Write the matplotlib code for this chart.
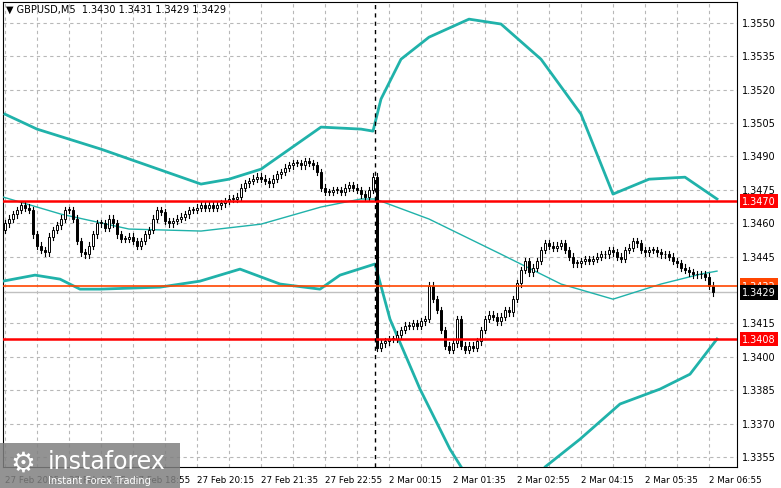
import matplotlib
matplotlib.use("Agg")
import matplotlib.pyplot as plt
import numpy as np
from matplotlib.patches import Rectangle

# closes in pips above 1.3400
closes = [60,62,64,66,68,67,66,55,50,48,47,54,57,59,62,66,66,62,52,47,46,50,55,60,60,58,62,60,55,53,
          53,54,52,50,52,55,57,62,66,65,61,60,61,62,63,64,66,66,67,68,67,68,67,68,69,70,71,71,72,76,
          78,79,80,81,80,79,78,80,82,83,85,86,87,87,86,88,87,86,83,76,74,74,75,75,74,76,77,76,75,73,
          72,75,81,4,6,7,8,8,10,12,14,14,15,14,16,17,32,26,21,12,5,3,6,17,5,3,5,4,7,12,
          17,19,18,16,18,21,20,26,33,39,43,38,40,43,48,51,50,49,50,51,48,45,42,42,43,44,43,44,45,46,
          46,48,47,45,44,48,49,52,51,48,47,48,48,47,46,46,45,43,42,40,39,38,37,37,37,36,32,29]
first_open = 57
wick = 1.5

up_idx = [0,8,24,49,56,64,79,89,92,94,99,106,116,124,134,144,152,161,170,178]
up_val = [109.0,102.3,93.3,77.6,79.8,84.3,103.2,102.3,101.4,115.8,133.7,143.6,151.7,149.5,133.7,109.0,73.1,79.8,80.7,70.9]
mid_idx = [-0.5,14,31,49,64,79,89,92.5,106,124,139,152,164,174,178]
mid_val = [71.8,64.1,57.4,56.5,59.6,67.3,70.9,70.9,61.9,46.1,32.7,25.9,32.7,37.2,38.5]
lo_idx = [-0.5,7.5,13.75,18.75,23.75,38.75,48.75,58.75,68.75,78.75,83.75,92.5,96.25,103.75,111.25,117.5,131.25,135,143.75,153.75,163.75,171.25,178]
lo_val = [34.0,36.7,34.9,30.4,30.4,31.3,34.0,39.4,32.7,30.4,36.7,41.7,16.9,-14.5,-41.5,-59.4,-63.9,-49.5,-37.0,-21.2,-14.5,-7.8,8.0]

xtick_labels = ["27 Feb 2025","27 Feb 17:35","27 Feb 18:55","27 Feb 20:15","27 Feb 21:35","27 Feb 22:55",
                "2 Mar 00:15","2 Mar 01:35","2 Mar 02:55","2 Mar 04:15","2 Mar 05:35","2 Mar 06:55"]
xtick_idx = [0,16,32,48,64,80,96,112,128,144,160,176]
yticks = [1.3355,1.3370,1.3385,1.3400,1.3415,1.3445,1.3460,1.3475,1.3490,1.3505,1.3520,1.3535,1.3550]
levels_red = [1.3470, 1.3408]
level_orange = 1.3432
level_last = 1.3429

def P(p): return 1.3400 + np.asarray(p)/10000.0

W, H = 781, 489
fig = plt.figure(figsize=(W/100, H/100), dpi=100)
ax = fig.add_axes([3/W, 21/H, 734/W, 465/H])
ymin, ymax = 1.33505, 1.35594
ax.set_xlim(-0.5, 183)
ax.set_ylim(ymin, ymax)
ax.set_facecolor("white")

for v in yticks:
    ax.axhline(v, color="#b8b8b8", lw=0.8, ls=(0,(3,3)), zorder=0)
for i in range(0, 184, 8):
    ax.axvline(i, color="#b8b8b8", lw=0.8, ls=(0,(3,3)), zorder=0)

teal = "#20b2aa"
ax.plot(up_idx, P(up_val), color=teal, lw=2, zorder=3)
ax.plot(mid_idx, P(mid_val), color=teal, lw=1, zorder=3)
ax.plot(lo_idx, P(lo_val), color=teal, lw=2, zorder=3)

opens = [first_open] + closes[:-1]
for i, (o, c) in enumerate(zip(opens, closes)):
    hi = max(o, c) + wick; lo = min(o, c) - wick
    ax.plot([i, i], [P(lo), P(hi)], color="black", lw=0.8, zorder=4)
    b = max(abs(c - o), 0.4)
    ax.add_patch(Rectangle((i - 0.35, P(min(o, c))), 0.7, b/10000.0,
                           facecolor="white" if c >= o else "black", edgecolor="black", lw=0.7, zorder=5))

for v in levels_red:
    ax.axhline(v, color="#ff0000", lw=1.8, zorder=6)
ax.axhline(level_orange, color="#ff4500", lw=1.2, zorder=6)
ax.axhline(level_last, color="#c0c0c0", lw=1, zorder=2)
ax.axvline(92.5, color="black", lw=1, ls=(0,(3,3)), zorder=6)

ax.set_xticks([]); ax.set_yticks([])
for s in ax.spines.values():
    s.set_color("black"); s.set_linewidth(0.8)

def ypix(v):
    return ax.transData.transform((0, v))[1]
fx = 742/W
for v in yticks:
    fig.text(fx, ypix(v)/H, f"{v:.4f}", fontsize=7, va="center", ha="left", color="black")
for v, fc, tc in [(levels_red[0], "#ff0000", "white"), (levels_red[1], "#ff0000", "white"),
                  (level_orange, "#ff4500", "white"), (level_last, "black", "white")]:
    fig.text(fx, ypix(v)/H, f"{v:.4f}", fontsize=7, va="center", ha="left", color=tc,
             bbox=dict(boxstyle="square,pad=0.25", fc=fc, ec="none"))

for i, lab in zip(xtick_idx, xtick_labels):
    xp = ax.transData.transform((i, 0))[0]
    fig.text(xp/W, 8/H, lab, fontsize=6.3, ha="left", va="center")

fig.text(6/W, 1-10/H, "▼ GBPUSD,M5  1.3430 1.3431 1.3429 1.3429", fontsize=7, va="center")

fig.patches.append(Rectangle((0, 0), 180/W, 45/H, transform=fig.transFigure,
                             facecolor="#808080", alpha=0.85, edgecolor="none", zorder=10))
fig.text(48/W, 27/H, "instaforex", fontsize=17, color="white", va="center", zorder=11)
fig.text(48/W, 8/H, "Instant Forex Trading", fontsize=7, color="white", va="center", zorder=11)
fig.text(10/W, 25/H, "⚙", fontsize=20, color="white", va="center", zorder=11)

fig.savefig("out.png", dpi=100)
